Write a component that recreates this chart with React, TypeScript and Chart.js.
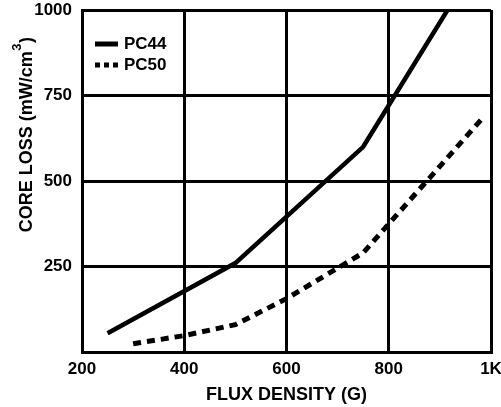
import React, { useEffect, useRef } from "react";
import { Chart, registerables } from "chart.js";

Chart.register(...registerables);

const seriesNames = ["PC44", "PC50"];
const fluxPC44 = [250, 500, 750, 915];
const lossPC44 = [55, 260, 600, 1000];
const fluxPC50 = [300, 400, 500, 600, 750, 980];
const lossPC50 = [24, 48, 80, 156, 290, 678];
const xTicks = [200, 400, 600, 800, 1000];
const xTickLabels = ["200", "400", "600", "800", "1K"];
const yTicks = [0, 250, 500, 750, 1000];
const yTickLabels = ["", "250", "500", "750", "1000"];
const xTitle = "FLUX DENSITY (G)";
const yTitleMain = "CORE LOSS (mW/cm";
const yTitleSup = "3";
const yTitleEnd = ")";

const FONT = "'Liberation Sans', Arial, Helvetica, sans-serif";

const legendAndTitlePlugin = {
  id: "customLegendTitle",
  afterDraw(chart: any) {
    const ctx = chart.ctx;
    const ca = chart.chartArea;
    ctx.save();
    // y-axis title with superscript
    ctx.fillStyle = "#000";
    const mainFont = `bold 18px ${FONT}`;
    const supFont = `bold 13px ${FONT}`;
    ctx.font = mainFont;
    const w1 = ctx.measureText(yTitleMain).width;
    const w3 = ctx.measureText(yTitleEnd).width;
    ctx.font = supFont;
    const w2 = ctx.measureText(yTitleSup).width;
    const total = w1 + w2 + w3;
    ctx.translate(31.5, 38 + total);
    ctx.rotate(-Math.PI / 2);
    ctx.textAlign = "left";
    ctx.textBaseline = "alphabetic";
    ctx.font = mainFont;
    ctx.fillText(yTitleMain, 0, 0);
    ctx.font = supFont;
    ctx.fillText(yTitleSup, w1 + 0.5, -10.5);
    ctx.font = mainFont;
    ctx.fillText(yTitleEnd, w1 + w2 + 1, 0);
    ctx.restore();

    // legend
    ctx.save();
    const rows = [44, 65];
    chart.data.datasets.forEach((ds: any, i: number) => {
      const y = rows[i];
      const dashed = ds.borderDash && ds.borderDash.length;
      ctx.beginPath();
      ctx.strokeStyle = "#000";
      ctx.lineWidth = 5;
      ctx.lineCap = "butt";
      ctx.setLineDash(dashed ? [5, 4] : []);
      ctx.moveTo(ca.left + 13, y);
      ctx.lineTo(ca.left + (dashed ? 40 : 36), y);
      ctx.stroke();
      ctx.setLineDash([]);
      ctx.fillStyle = "#000";
      ctx.font = `bold 17px ${FONT}`;
      ctx.textAlign = "left";
      ctx.textBaseline = "middle";
      ctx.fillText(ds.label, ca.left + 42, y + 0.5);
    });
    ctx.restore();
  },
};

export default function App() {
  const ref = useRef<HTMLCanvasElement | null>(null);

  useEffect(() => {
    if (!ref.current) return;
    const chart = new Chart(ref.current, {
      type: "line",
      data: {
        datasets: [
          {
            label: seriesNames[0],
            data: fluxPC44.map((x, i) => ({ x, y: lossPC44[i] })),
            borderColor: "#000",
            borderWidth: 4.5,
            pointRadius: 0,
            borderCapStyle: "butt",
            tension: 0,
            fill: false,
          },
          {
            label: seriesNames[1],
            data: fluxPC50.map((x, i) => ({ x, y: lossPC50[i] })),
            borderColor: "#000",
            borderWidth: 5,
            borderDash: [8, 6],
            pointRadius: 0,
            borderCapStyle: "butt",
            tension: 0,
            fill: false,
          },
        ],
      },
      options: {
        animation: false,
        responsive: false,
        devicePixelRatio: 1,
        layout: { padding: { top: 10, right: 10, left: 0, bottom: 0 } },
        plugins: {
          legend: { display: false },
          tooltip: { enabled: false },
        },
        scales: {
          x: {
            type: "linear",
            min: 200,
            max: 1000,
            afterFit(scale: any) {
              scale.height = 55;
              scale.paddingLeft = 0;
              scale.paddingRight = 0;
            },
            afterBuildTicks(scale: any) {
              scale.ticks = xTicks.map((v) => ({ value: v }));
            },
            ticks: {
              color: "#000",
              font: { family: FONT, size: 17, weight: "bold" },
              padding: 7,
              maxRotation: 0,
              autoSkip: false,
              callback: (v: any) => {
                const i = xTicks.indexOf(Number(v));
                return i >= 0 ? xTickLabels[i] : "";
              },
            },
            grid: { color: "#000", lineWidth: 3, drawTicks: false },
            border: { display: true, color: "#000", width: 3 },
            title: {
              display: true,
              text: xTitle,
              color: "#000",
              font: { family: FONT, size: 18, weight: "bold" },
              padding: { top: 0, bottom: 1 },
            },
          },
          y: {
            type: "linear",
            min: 0,
            max: 1000,
            afterFit(scale: any) {
              scale.width = 82;
              scale.paddingTop = 0;
              scale.paddingBottom = 0;
            },
            afterBuildTicks(scale: any) {
              scale.ticks = yTicks.map((v) => ({ value: v }));
            },
            ticks: {
              color: "#000",
              font: { family: FONT, size: 17, weight: "bold" },
              padding: 10,
              autoSkip: false,
              callback: (v: any) => {
                const i = yTicks.indexOf(Number(v));
                return i >= 0 ? yTickLabels[i] : "";
              },
            },
            grid: { color: "#000", lineWidth: 3, drawTicks: false },
            border: { display: true, color: "#000", width: 3 },
          },
        },
      },
      plugins: [legendAndTitlePlugin],
    } as any);
    return () => chart.destroy();
  }, []);

  return (
    <div style={{ position: "absolute", left: 0, top: 0, width: 501, height: 407, background: "#fff" }}>
      <canvas ref={ref} width={501} height={407} style={{ display: "block" }} />
    </div>
  );
}
